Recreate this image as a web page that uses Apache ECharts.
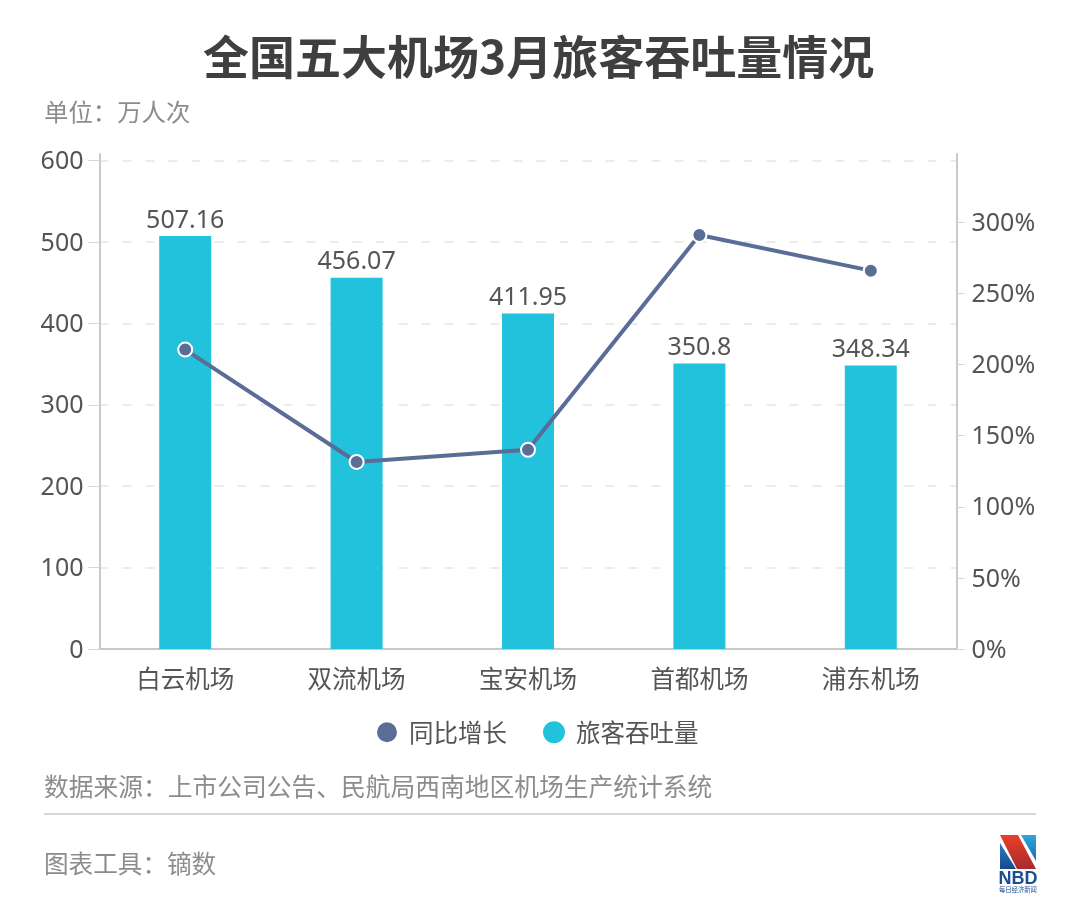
<!DOCTYPE html>
<html>
<head>
<meta charset="utf-8">
<title>全国五大机场3月旅客吞吐量情况</title>
<script src="https://cdn.jsdelivr.net/npm/echarts@6/dist/echarts.min.js"></script>
<style>
html,body{margin:0;background:#fff;}
#chart{width:1080px;height:918px;}
</style>
</head>
<body>
<div id="chart"></div>
<script>
const airports = ["白云机场","双流机场","宝安机场","首都机场","浦东机场"]
const passengers = [507.16,456.07,411.95,350.8,348.34]
const growth = [210.5,131.5,140,291,266]
const leftTicks = [0,100,200,300,400,500,600]
const rightTicks = [0,50,100,150,200,250,300]

const font = '"Noto Sans","Noto Sans CJK SC",sans-serif'
const cjk = '"Noto Sans CJK SC",sans-serif'
const gray = "#8c8c8c"
const dark = "#555555"
const axisGray = "#c9c9c9"

function txt(x,y,text,size,fill,weight){
  return {type:"text",left:x,top:y,style:{text:text,fontSize:size,fill:fill,fontFamily:cjk,fontWeight:weight||400}}
}

function grad(c1,c2){
  return new echarts.graphic.LinearGradient(0,0,0,1,[{offset:0,color:c1},{offset:1,color:c2}])
}

const chart = echarts.init(document.getElementById("chart"),null,{renderer:"canvas"})

chart.setOption({
  animation:false,
  backgroundColor:"#fff",
  textStyle:{fontFamily:font},
  grid:{left:99.5,right:123.5,top:154,bottom:269,containLabel:false},
  legend:{
    top:715,left:370,itemWidth:22,itemHeight:22,itemGap:36,
    textStyle:{fontSize:24.5,color:dark,fontFamily:cjk,padding:[0,0,0,6]},
    data:[{name:"同比增长",icon:"circle"},{name:"旅客吞吐量",icon:"circle"}]
  },
  xAxis:{
    type:"category",data:airports,
    axisLine:{lineStyle:{color:axisGray,width:2}},
    axisTick:{show:false},
    axisLabel:{fontSize:24.5,color:dark,margin:17,fontFamily:cjk}
  },
  yAxis:[{
    type:"value",min:0,max:608,
    axisLine:{show:true,lineStyle:{color:axisGray,width:2}},
    axisTick:{show:true,length:11,customValues:leftTicks,lineStyle:{color:"#d6d6d6",width:1}},
    axisLabel:{fontSize:25,color:dark,margin:16,customValues:leftTicks,verticalAlign:"top",lineHeight:3},
    splitLine:{show:true,lineStyle:{color:"#e6e6e6",type:[9,14],width:1.5}}
  },{
    type:"value",min:0,max:348,position:"right",
    axisLine:{show:true,lineStyle:{color:axisGray,width:2}},
    axisTick:{show:true,length:8,customValues:rightTicks,lineStyle:{color:"#d6d6d6",width:1}},
    axisLabel:{fontSize:25,color:dark,margin:15,customValues:rightTicks,formatter:"{value}%",verticalAlign:"top",lineHeight:3},
    splitLine:{show:false}
  }],
  series:[{
    name:"旅客吞吐量",type:"bar",data:passengers,barWidth:52,yAxisIndex:0,
    itemStyle:{color:"#22c2dc"},
    label:{show:true,position:"top",distance:3,fontSize:25,color:dark}
  },{
    name:"同比增长",type:"line",data:growth,yAxisIndex:1,
    symbol:"circle",symbolSize:14,
    lineStyle:{color:"#5a6d96",width:4},
    itemStyle:{color:"#5a6d96",borderColor:"#fff",borderWidth:2}
  }],
  graphic:[
    txt(203,34,"全国五大机场3月旅客吞吐量情况",46,"#3f3f3f",700),
    txt(44,100,"单位：万人次",24.4,gray),
    txt(44,774,"数据来源：上市公司公告、民航局西南地区机场生产统计系统",24.75,gray),
    txt(44,851,"图表工具：镝数",24.6,gray),
    {type:"rect",shape:{x:44,y:813,width:992,height:2},style:{fill:"#d6d6d6"}},
    // logo
    {type:"polygon",shape:{points:[[1000,843],[1016,869],[1000,869]]},style:{fill:grad("#2a7cc4","#174a8c")}},
    {type:"polygon",shape:{points:[[1021,835],[1036,835],[1036,861]]},style:{fill:grad("#2fa6dc","#1c6cb4")}},
    {type:"polygon",shape:{points:[[1000,835],[1018,835],[1036,869],[1017,869]]},style:{fill:grad("#e8402a","#a82a30")}},
    {type:"text",left:998.5,top:870,style:{text:"NBD",fontSize:18,fontWeight:800,fill:"#1c4f91",fontFamily:"Liberation Sans"}},
    {type:"text",left:999,top:886,style:{text:"每日经济新闻",fontSize:6.3,fill:"#1c4f91",fontFamily:cjk}}
  ]
})
</script>
</body>
</html>
